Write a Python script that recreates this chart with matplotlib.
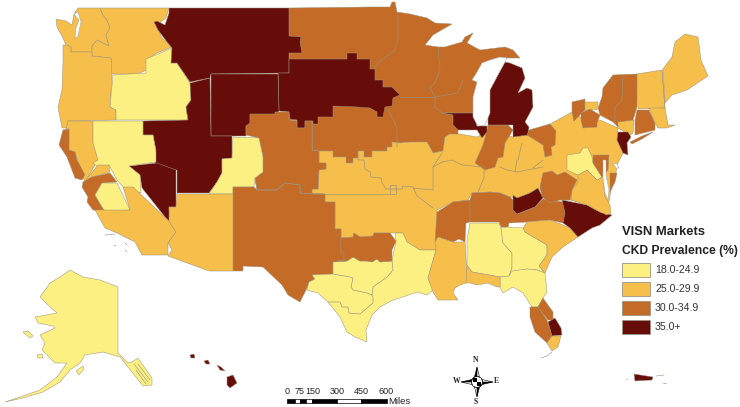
import matplotlib
matplotlib.use("Agg")
import matplotlib.pyplot as plt
from matplotlib.patches import Polygon, Rectangle

plt.rcParams['font.family'] = ['Liberation Sans', 'DejaVu Sans']

class_labels = ["18.0-24.9", "25.0-29.9", "30.0-34.9", "35.0+"]
class_colors = ["#FBF081", "#F6BE4A", "#C46C27", "#660D0A"]
EDGE = "#9c927c"

north_orange = [(289,8),(370,7),(390,7),(392,2),(395,2),(397,12),(410,14),(427,18),(435,23),(452,24),(433,35),(425,45),(438,47),(445,47),(462,42),(465,37),(473,33),(467,43),(480,50),(505,47),(513,50),(520,58),(505,58),(505,70),(490,90),(488,113),(473,113),(442,113),(453,115),(453,125),(458,130),(458,135),(450,134),(445,137),(443,151),(433,153),(427,142),(410,142),(400,143),(392,142),(392,147),(387,147),(387,151),(372,151),(372,157),(364,157),(364,151),(358,151),(358,158),(353,158),(353,163),(346,163),(346,157),(333,157),(333,151),(319,151),(312,150),(312,121),(289,120)]
central_amber = [(312,194),(312,189),(318,189),(319,170),(326,169),(326,163),(319,163),(319,151),(333,151),(333,157),(346,157),(346,163),(353,163),(353,158),(358,158),(358,151),(364,151),(364,157),(372,157),(372,151),(387,151),(387,147),(392,147),(392,142),(400,143),(410,142),(427,142),(433,153),(443,151),(445,137),(450,134),(460,134),(477,137),(490,130),(513,137),(528,135),(552,123),(572,112),(585,120),(600,120),(618,128),(617,140),(623,153),(618,163),(616,172),(612,185),(608,207),(597,207),(571,200),(560,200),(540,190),(530,193),(517,198),(510,197),(500,193),(490,192),(472,193),(468,200),(453,202),(437,210),(437,240),(436,250),(420,250),(407,242),(403,233),(395,233),(390,233),(374,233),(373,236),(360,237),(354,233),(353,237),(341,238),(341,229),(335,229),(335,202),(325,202),(325,194)]
wa_west = [(56,19),(66,21),(72,25),(74,14),(78,8),(100,8),(103,15),(107,20),(110,28),(106,35),(109,46),(97,40),(92,46),(92,52),(71,52),(71,47),(66,45),(62,36),(57,27)]
wa_east = [(100,8),(169,8),(166,18),(157,25),(154,22),(159,32),(162,38),(172,47),(157,53),(146,60),(147,70),(137,74),(111,74),(111,58),(92,56),(92,46),(97,40),(109,46),(106,35),(110,28),(107,20),(103,15)]
oregon = [(71,52),(92,52),(92,56),(111,58),(112,75),(110,107),(116,110),(116,120),(68,121),(68,128),(62,128),(58,107),(62,90),(63,63),(63,45),(66,45),(71,47)]
idaho = [(113,75),(146,73),(146,59),(172,48),(171,63),(177,63),(190,83),(191,100),(186,107),(188,120),(116,120),(116,110),(110,107)]
montana = [(169,8),(289,8),(289,36),(301,37),(300,42),(302,53),(289,53),(289,73),(211,74),(210,78),(190,82),(177,63),(171,63),(172,48),(167,42),(158,30),(154,22),(157,21),(165,25),(169,13)]
dakota = [(289,59),(347,59),(347,53),(357,53),(357,59),(370,59),(370,69),(375,69),(375,80),(383,80),(383,87),(392,87),(400,95),(393,98),(392,106),(385,107),(383,117),(377,117),(377,112),(370,108),(357,107),(333,106),(333,117),(318,117),(318,124),(313,124),(313,121),(305,121),(305,128),(297,128),(297,120),(290,119),(289,112),(279,111),(278,73),(289,73)]
wyoming = [(211,74),(278,74),(279,111),(275,115),(250,115),(250,125),(246,126),(246,136),(211,136)]
utah = [(210,78),(211,136),(232,136),(232,158),(222,159),(222,173),(217,182),(209,193),(177,193),(177,170),(167,170),(155,163),(156,150),(153,135),(143,135),(143,121),(188,120),(186,107),(191,100),(190,83)]
nevada_s = [(129,166),(157,163),(176,170),(176,207),(169,207),(169,222),(142,188),(140,175)]
colorado_e = [(250,114),(275,114),(275,112),(289,112),(289,120),(297,121),(297,128),(305,128),(305,121),(312,121),(312,150),(319,151),(319,163),(326,163),(326,169),(319,170),(318,189),(312,189),(312,194),(300,193),(300,185),(285,183),(277,190),(257,190),(255,178),(263,172),(263,157),(259,138),(246,135),(246,126),(250,123)]
colorado_s = [(233,137),(259,138),(263,157),(263,172),(255,178),(254,187),(233,187),(233,194),(209,194),(217,182),(222,173),(222,159),(232,158)]
new_mexico = [(233,187),(254,187),(257,190),(277,190),(285,183),(300,185),(300,193),(325,194),(325,202),(335,202),(335,229),(341,229),(341,253),(344,253),(344,260),(333,262),(333,274),(312,275),(315,279),(309,282),(307,288),(300,302),(288,295),(282,285),(263,267),(243,266),(243,271),(233,271)]
north_texas = [(341,238),(353,237),(354,233),(360,237),(373,236),(374,233),(390,233),(396,241),(392,250),(392,261),(380,262),(377,259),(372,262),(367,261),(360,261),(353,257),(347,261),(333,262),(344,260),(344,253),(341,253)]
texas = [(312,275),(333,274),(333,262),(347,261),(353,257),(360,261),(367,261),(372,262),(377,259),(380,262),(392,261),(396,241),(395,233),(403,233),(407,242),(420,250),(436,250),(428,278),(433,290),(427,295),(417,292),(403,297),(393,300),(380,307),(372,315),(366,330),(367,342),(355,337),(347,332),(340,317),(328,302),(318,293),(307,290),(309,282),(315,279)]
arkansas = [(437,212),(453,202),(470,200),(470,222),(466,223),(465,242),(459,239),(453,242),(438,237),(435,242)]
mississippi = [(438,237),(453,242),(465,242),(467,275),(466,283),(460,285),(455,288),(453,293),(458,300),(450,300),(438,300),(433,292),(428,278),(436,250),(435,242)]
tennessee = [(470,200),(470,222),(499,222),(501,227),(508,227),(509,223),(527,222),(550,220),(563,223),(567,208),(563,202),(543,199),(535,207),(517,214),(513,210),(513,200),(510,197),(500,193),(490,192),(472,193)]
alabama = [(470,223),(499,223),(501,228),(503,243),(512,253),(512,268),(509,276),(500,277),(472,272),(467,265),(467,240)]
georgia = [(501,228),(508,227),(523,228),(525,232),(547,245),(547,255),(539,266),(545,273),(537,270),(527,269),(512,272),(509,276),(512,268),(512,253),(503,243)]
fl_panhandle = [(500,277),(509,276),(512,271),(527,269),(537,270),(545,273),(547,292),(543,298),(538,307),(532,307),(523,293),(513,287),(503,293),(500,287)]
al_coast = [(467,266),(472,272),(500,277),(500,287),(497,287),(488,283),(477,285),(470,283),(466,283)]
carolina_s = [(525,232),(523,228),(527,222),(550,220),(563,225),(570,228),(578,237),(563,247),(552,257),(545,273),(539,266),(547,255),(547,245)]
carolina_n = [(562,200),(587,205),(600,212),(612,215),(600,225),(592,228),(578,237),(570,228),(563,223),(565,213)]
fl_north = [(538,307),(543,298),(553,312),(553,320),(548,320),(539,309)]
fl_west = [(530,307),(538,307),(547,320),(552,336),(547,343),(535,332),(530,317)]
fl_east = [(548,322),(555,318),(561,328),(562,335),(552,336)]
fl_south = [(552,336),(561,336),(558,347),(552,351),(547,343)]
indiana_n = [(488,125),(508,125),(513,130),(505,143),(503,157),(498,158),(495,167),(485,170),(475,163),(483,145),(485,138)]
michigan = [(505,62),(510,63),(522,68),(525,78),(518,93),(527,88),(532,90),(533,107),(525,122),(529,127),(528,135),(513,137),(513,125),(488,125),(488,100),(490,85)]
il_strip = [(442,113),(473,113),(477,126),(487,126),(487,132),(482,138),(477,130),(458,130),(453,125),(453,115)]
ohio_ne = [(529,130),(550,124),(556,131),(555,145),(551,147),(552,155),(545,157),(543,145),(535,140),(527,135)]
wv_yellow = [(567,155),(580,153),(583,148),(588,148),(592,157),(593,163),(602,177),(597,180),(587,170),(578,175),(567,170)]
md_orange = [(593,155),(609,155),(608,170),(602,177),(593,163)]
delmarva = [(610,173),(617,173),(615,182),(610,192)]
virginia = [(578,175),(587,170),(597,180),(603,177),(605,197),(610,205),(611,213),(607,215),(600,212),(587,205),(571,200),(572,190),(578,182)]
wv_orange = [(543,173),(552,171),(557,175),(565,172),(577,180),(572,190),(570,200),(560,200),(550,203),(542,197),(540,187)]
va_dark = [(513,195),(517,198),(530,193),(538,188),(543,198),(535,207),(517,214),(513,210)]
ny_west = [(572,102),(585,99),(585,110),(574,121),(572,112)]
ny_small = [(585,102),(598,102),(597,110),(590,109),(585,112)]
ny_mid = [(581,113),(590,109),(600,115),(597,123),(597,127),(583,128),(581,120)]
ny_north = [(603,88),(613,75),(637,74),(637,107),(633,120),(618,127),(613,122),(600,115),(598,108),(602,97)]
ny_lower = [(618,122),(634,120),(633,133),(630,135),(618,128)]
new_jersey = [(617,140),(618,132),(628,132),(631,137),(627,143),(628,155),(623,153)]
long_island = [(630,142),(642,136),(653,132),(642,139),(632,144)]
vermont = [(637,74),(662,70),(665,108),(638,109)]
maine = [(663,69),(672,57),(675,42),(685,34),(698,37),(701,60),(708,76),(687,90),(672,95),(665,103)]
mass_w = [(637,110),(649,110),(655,123),(655,130),(635,135),(635,120)]
mass_e = [(649,108),(665,108),(668,125),(675,125),(667,128),(658,128),(655,123)]
ca_coast = [(63,130),(69,129),(69,150),(75,152),(77,160),(85,175),(82,180),(75,178),(67,157),(59,145)]
ca_sac = [(68,121),(93,121),(93,143),(98,160),(85,182),(83,177),(75,152),(69,150),(69,129),(66,129)]
nv_yellow = [(93,121),(143,121),(143,135),(153,135),(156,152),(156,162),(129,166),(140,175),(141,193),(123,187),(117,180),(109,165),(98,167),(93,163),(98,160),(93,143)]
ca_bay = [(84,182),(98,165),(109,165),(110,172),(100,175),(92,177),(92,183)]
ca_central = [(92,177),(110,173),(117,182),(102,183),(95,195),(102,207),(105,211),(93,210),(87,202),(88,197),(82,187),(83,182)]
ca_inner = [(95,195),(102,183),(117,183),(130,210),(105,211),(102,207)]
socal = [(123,187),(133,187),(170,222),(176,232),(168,243),(168,255),(142,255),(135,242),(117,233),(105,228),(95,210),(130,210)]
arizona = [(177,194),(233,194),(233,271),(209,271),(168,256),(172,250),(168,243),(176,232),(170,223),(169,207),(176,207)]
alaska = [(70,270),(83,277),(100,280),(118,287),(118,353),(128,363),(132,362),(138,358),(152,378),(152,385),(143,386),(132,372),(120,357),(103,352),(85,355),(80,363),(70,370),(60,382),(43,392),(23,398),(5,402),(20,397),(40,390),(57,377),(67,363),(55,363),(42,350),(45,343),(40,335),(55,328),(53,326),(38,323),(35,317),(57,313),(50,307),(40,297),(50,283),(60,277)]
ak_isle1 = [(23,332),(28,331),(33,336),(30,338)]
ak_isle2 = [(37,355),(42,354),(43,358),(38,358)]
ak_isle3 = [(76,371),(83,366),(84,369),(79,375)]
hi_big = [(227,377),(233,375),(237,383),(230,388),(227,385)]
hi_maui = [(217,365),(221,367),(225,371),(220,370)]
hi_oahu = [(204,361),(208,360),(210,364),(206,364)]
hi_kauai = [(190,355),(194,354),(195,358),(191,358)]
puerto_rico = [(634,374),(653,377),(652,380),(635,381)]

regions = [
    (north_orange,2),(central_amber,1),(wa_west,1),(wa_east,1),(oregon,1),(idaho,0),(montana,3),(dakota,3),
    (wyoming,3),(utah,3),(nevada_s,3),(colorado_e,2),(colorado_s,0),(new_mexico,2),(texas,0),(north_texas,2),
    (arkansas,2),(mississippi,1),(tennessee,2),(alabama,0),(georgia,0),(fl_panhandle,0),(al_coast,1),
    (carolina_s,1),(carolina_n,3),(fl_north,2),(fl_west,2),(fl_east,3),(fl_south,1),(indiana_n,2),(michigan,3),
    (il_strip,3),(ohio_ne,2),(virginia,1),(wv_orange,2),(wv_yellow,0),(md_orange,2),(delmarva,2),(va_dark,3),
    (ny_west,2),(ny_small,1),(ny_mid,2),(ny_north,2),(ny_lower,1),(new_jersey,3),(long_island,2),(vermont,1),
    (maine,1),(mass_w,2),(mass_e,1),(ca_sac,1),(ca_coast,2),(nv_yellow,0),(ca_bay,1),(ca_central,2),(ca_inner,0),
    (socal,1),(arizona,1),(alaska,0),(ak_isle1,0),(ak_isle2,0),(ak_isle3,0),(hi_big,3),(hi_maui,3),(hi_oahu,3),
    (hi_kauai,3),(puerto_rico,3),
]

lake_michigan = [(472,80),(477,72),(482,63),(490,60),(500,57),(507,58),(505,62),(498,75),(490,90),(490,113),(485,125),(478,126),(473,117),(473,97),(477,82)]
chesapeake = [(603,160),(606,160),(606,175),(609,190),(608,200),(605,193),(603,178)]
delaware_bay = [(613,163),(617,164),(619,168),(616,168)]
puget = [(74,14),(78,12),(81,22),(78,36),(75,39),(76,28),(79,20)]

borders = [
    [(313,194),(390,194)],
    [(390,185),(396,185),(396,194),(390,194),(390,185)],
    [(358,151),(358,160),(364,160),(365,169),(370,172),(371,177),(381,178),(382,183),(386,189),(390,189),(402,189),(403,186),(413,187),(417,196),(433,208)],
    [(413,188),(433,190),(433,167),(442,153)],
    [(442,162),(452,160),(462,165),(483,167)],
    [(484,170),(484,178),(478,192)],
    [(433,167),(442,162)],
    [(500,167),(507,170),(517,172),(543,167)],
    [(517,160),(515,172)],
    [(518,160),(522,143)],
    [(533,168),(543,160)],
    [(398,13),(398,40),(395,50),(378,63),(375,68)],
    [(438,47),(440,70),(435,83),(430,88),(435,97),(435,107),(442,113)],
    [(400,97),(435,97)],
    [(388,110),(397,127),(397,147)],
    [(463,80),(458,93),(435,97)],
    [(333,274),(350,277),(353,278),(351,287),(353,290),(367,293),(372,295),(373,287),(387,277),(393,270),(392,261)],
    [(328,302),(340,302),(342,307),(348,307),(349,313),(360,314),(373,303),(373,297),(372,295)],
    [(623,75),(622,100),(615,108),(615,122)],
    [(312,122),(312,150)],
    [(255,178),(257,190),(277,190),(285,183),(300,185),(300,193),(312,194)],
    [(662,70),(665,108)],
]
keys = [(541,358),(547,356),(552,352)]
channel_isles = [[(105,235),(115,234)],[(114,245),(116,246)],[(125,243),(127,245)],[(125,250),(127,252)]]
pr_isles = [[(656,376),(664,375)],[(663,383),(666,383)],[(626,379),(627,379)]]
se_alaska = [[(134,364),(148,382)],[(138,364),(150,380)],[(136,370),(146,384)]]

legend_title = "VISN Markets"
legend_sub = "CKD Prevalence (%)"
scale_ticks = [0, 75, 150, 300, 450, 600]
scale_px = [287, 300, 313, 337, 361, 386]
scale_fill = [(287,295,'k'),(295,300,'w'),(300,306,'k'),(306,312,'w'),(312,337,'k'),(337,361,'w'),(361,387,'k')]

fig = plt.figure(figsize=(7.4, 4.07), dpi=100)
ax = fig.add_axes([0, 0, 1, 1])
ax.set_xlim(0, 740)
ax.set_ylim(407, 0)
ax.axis("off")

for poly, cls in regions:
    ax.add_patch(Polygon(poly, closed=True, fc=class_colors[cls], ec=EDGE, lw=0.35, joinstyle="round"))

for poly in (lake_michigan, chesapeake, delaware_bay, puget):
    ax.add_patch(Polygon(poly, closed=True, fc="white", ec="#a8acb0", lw=0.4))

for line in borders:
    xs, ys = zip(*line)
    ax.plot(xs, ys, color=EDGE, lw=0.45, solid_joinstyle="round")
for line in [keys] + channel_isles + pr_isles + se_alaska:
    xs, ys = zip(*line)
    ax.plot(xs, ys, color="#9c9a88", lw=0.45)

# legend
ax.text(622, 232, legend_title, fontsize=9.4, fontweight="bold", va="center", color="#222222")
ax.text(622, 251, legend_sub, fontsize=8.7, fontweight="bold", va="center", color="#222222")
for i, lab in enumerate(class_labels):
    y = 263 + i * 19
    ax.add_patch(Rectangle((622, y), 28, 14, fc=class_colors[i], ec="#9a9484", lw=0.6))
    ax.text(655, y + 7, lab, fontsize=7.6, va="center", color="#333333")

# scale bar
for x0, x1, c in scale_fill:
    ax.add_patch(Rectangle((x0, 399), x1 - x0, 4, fc=c, ec="k", lw=0.5))
for v, x in zip(scale_ticks, scale_px):
    ax.text(x, 391, str(v), fontsize=6.5, ha="center", va="center", color="#222222")
ax.text(388, 401, "Miles", fontsize=6.8, va="center", color="#222222")

# compass
cx, cy = 477, 382
black_pts = [[(cx,cy-15),(cx-3,cy-3),(cx,cy-3)],[(cx,cy+15),(cx+3,cy+3),(cx,cy+3)],
             [(cx-16,cy),(cx-3,cy-3),(cx-3,cy)],[(cx+16,cy),(cx+3,cy+3),(cx+3,cy)]]
white_pts = [[(cx,cy-15),(cx+3,cy-3),(cx,cy-3)],[(cx,cy+15),(cx-3,cy+3),(cx,cy+3)],
             [(cx-16,cy),(cx-3,cy+3),(cx-3,cy)],[(cx+16,cy),(cx+3,cy-3),(cx+3,cy)]]
for p in black_pts:
    ax.add_patch(Polygon(p, fc="k", ec="k", lw=0.4))
for p in white_pts:
    ax.add_patch(Polygon(p, fc="white", ec="k", lw=0.4))
ax.add_patch(plt.Circle((cx, cy), 5.5, fc="white", ec="k", lw=0.6))
ax.add_patch(Rectangle((cx-4, cy-4), 4, 4, fc="k", ec="none", zorder=3))
ax.add_patch(Rectangle((cx, cy), 4, 4, fc="k", ec="none", zorder=3))
ax.add_patch(Rectangle((cx, cy-4), 4, 4, fc="white", ec="none", zorder=3))
ax.add_patch(Rectangle((cx-4, cy), 4, 4, fc="white", ec="none", zorder=3))
for s, x, y in [("N",476,360),("S",476,402),("W",457,381),("E",496,381)]:
    ax.text(x, y, s, fontsize=5.5, fontweight="bold", family="Liberation Serif", ha="center", va="center", color="#222222")

fig.savefig("out.png", dpi=100)
